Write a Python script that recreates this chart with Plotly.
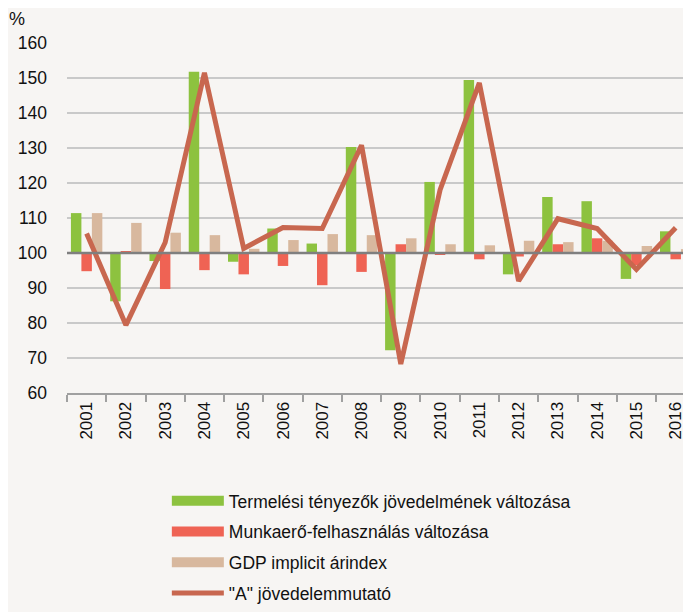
import plotly.graph_objects as go

years = [str(y) for y in range(2001, 2017)]

# Termelési tényezők jövedelmének változása
factor_income = [111.4, 86.2, 97.7, 151.8, 97.5, 107.0, 102.7, 130.3,
                 72.2, 120.3, 149.4, 93.9, 116.0, 114.8, 92.6, 106.2]
# Munkaerő-felhasználás változása
labour_input = [94.8, 100.4, 89.7, 95.1, 93.9, 96.3, 90.8, 94.6,
                102.5, 99.6, 98.2, 99.0, 102.5, 104.2, 96.5, 98.2]
# GDP implicit árindex
gdp_deflator = [111.4, 108.6, 105.8, 105.1, 101.2, 103.7, 105.4, 105.1,
                104.2, 102.5, 102.2, 103.5, 103.1, 103.5, 102.0, 101.1]
# "A" jövedelemmutató
indicator_a = [105.6, 79.4, 103.0, 151.5, 101.3, 107.3, 107.0, 130.8,
               68.3, 118.0, 148.6, 92.0, 109.8, 107.0, 95.3, 107.2]

GREEN = '#8dc23f'
RED = '#ef6354'
TAN = '#d8b89e'
BROWN = '#c8674f'
BG = '#f7f5f3'
FONT = 'Liberation Sans, Arial, sans-serif'

series = [
    ('Termelési tényezők jövedelmének változása', factor_income, GREEN),
    ('Munkaerő-felhasználás változása', labour_input, RED),
    ('GDP implicit árindex', gdp_deflator, TAN),
]

fig = go.Figure()

# bars start from the 100 baseline
for name, values, color in series:
    fig.add_trace(go.Bar(
        x=years,
        y=[v - 100 for v in values],
        base=100,
        name=name,
        marker=dict(color=color, line=dict(width=0)),
        showlegend=False,
    ))

fig.add_trace(go.Scatter(
    x=years,
    y=indicator_a,
    mode='lines',
    name='"A" jövedelemmutató',
    line=dict(color=BROWN, width=5),
    showlegend=False,
))

# legend entries drawn as wide strokes, like the original chart
for i, (name, values, color) in enumerate(series):
    fig.add_trace(go.Scatter(
        x=[None], y=[None], mode='lines', name=name,
        line=dict(color=color, width=10),
        legendgroup='g%d' % i,
    ))
fig.add_trace(go.Scatter(
    x=[None], y=[None], mode='lines', name='"A" jövedelemmutató',
    line=dict(color=BROWN, width=5),
    legendgroup='g3',
))

fig.add_hline(y=100, line=dict(color='#7f7f7f', width=2.5), layer='above')

# the page body adds an 8px offset, so the figure is 8px smaller here
fig.update_layout(
    width=683,
    height=604,
    paper_bgcolor=BG,
    plot_bgcolor=BG,
    font=dict(family=FONT, size=17, color='#111111'),
    barmode='group',
    bargap=0.2,
    bargroupgap=0,
    margin=dict(l=59, r=0, t=35, b=219, pad=0, autoexpand=False),
    legend=dict(
        x=0.16, y=-0.257, xanchor='left', yanchor='top',
        orientation='v',
        bgcolor='rgba(0,0,0,0)',
        font=dict(family=FONT, size=17.5, color='#111111'),
        itemwidth=52,
        tracegroupgap=5,
        traceorder='grouped',
    ),
    annotations=[dict(
        text='%', xref='paper', yref='paper', x=-0.08, y=1.069,
        xanchor='center', yanchor='middle', showarrow=False,
        font=dict(family=FONT, size=18, color='#111111'),
    )],
)

fig.update_xaxes(
    type='category',
    range=[-0.5, 15.39],
    tickangle=-90,
    tickson='boundaries',
    ticks='outside',
    ticklen=7,
    tickwidth=2,
    tickcolor='#a0a0a0',
    showline=True,
    linecolor='#a0a0a0',
    linewidth=2,
    showgrid=False,
    tickfont=dict(family=FONT, size=17, color='#111111'),
)

fig.update_yaxes(
    range=[60, 160],
    dtick=10,
    showgrid=True,
    gridcolor='#c9c9c9',
    gridwidth=1.5,
    zeroline=False,
    ticks='',
    ticklabelstandoff=19,
    tickfont=dict(family=FONT, size=17.5, color='#111111'),
)

fig.write_html("out.html")
